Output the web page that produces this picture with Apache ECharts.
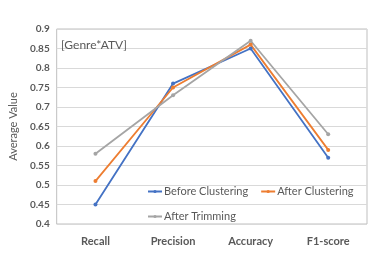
<!DOCTYPE html>
<html><head><meta charset="utf-8">
<script src="https://cdn.jsdelivr.net/npm/echarts@6/dist/echarts.min.js"></script>
<style>html,body{margin:0;padding:0;background:#fff}#c{width:374px;height:272px}</style>
</head><body><div id="c"></div>
<script>
const categories = ['Recall', 'Precision', 'Accuracy', 'F1-score'];
const beforeClustering = [0.45, 0.76, 0.85, 0.57];
const afterClustering = [0.51, 0.75, 0.86, 0.59];
const afterTrimming = [0.58, 0.73, 0.87, 0.63];
const seriesNames = ['Before Clustering', 'After Clustering', 'After Trimming'];
const colors = ['#4472C4', '#ED7D31', '#A5A5A5'];
const titleText = '[Genre*ATV]';
const yTitle = 'Average Value';

const F = 'Lato, "Open Sans", sans-serif';
const chart = echarts.init(document.getElementById('c'));
const mk = (name, data, color) => ({
  name, type: 'line', data, color,
  symbol: 'circle', symbolSize: 4,
  lineStyle: { width: 1.8, color },
  itemStyle: { color },
  z: 3
});
chart.setOption({
  animation: false,
  title: { text: titleText, left: 56, top: 34, textStyle: { fontFamily: F, fontSize: 12, fontWeight: 'normal', color: '#595959' } },
  legend: [
    { data: [seriesNames[0], seriesNames[1]], left: 142, top: 181, itemWidth: 14, itemHeight: 4, itemGap: 12,
      textStyle: { fontFamily: F, fontSize: 11, color: '#595959', padding: [0,0,0,-3] } },
    { data: [seriesNames[2]], left: 142, top: 206, itemWidth: 14, itemHeight: 4,
      textStyle: { fontFamily: F, fontSize: 11, color: '#595959', padding: [0,0,0,-3] } }
  ],
  grid: { left: 50, top: 29, right: 7, bottom: 48, show: true, borderColor: '#BFBFBF', borderWidth: 1 },
  xAxis: {
    type: 'category', data: categories, boundaryGap: true,
    axisLine: { show: false }, axisTick: { show: false },
    axisLabel: { fontFamily: F, fontSize: 11, fontWeight: 'bold', color: '#595959', margin: 12 }
  },
  yAxis: {
    type: 'value', min: 0.4, max: 0.9, interval: 0.05,
    name: yTitle, nameLocation: 'middle', nameGap: 26,
    nameTextStyle: { fontFamily: F, fontSize: 11, color: '#595959' },
    axisLine: { show: false }, axisTick: { show: false },
    axisLabel: { fontFamily: F, fontSize: 10, fontWeight: 'bold', color: '#595959', margin: 7,
      formatter: v => String(Math.round(v * 100) / 100) },
    splitLine: { lineStyle: { color: '#D9D9D9', width: 1 } }
  },
  series: [
    mk(seriesNames[0], beforeClustering, colors[0]),
    mk(seriesNames[1], afterClustering, colors[1]),
    mk(seriesNames[2], afterTrimming, colors[2])
  ]
});
</script></body></html>
